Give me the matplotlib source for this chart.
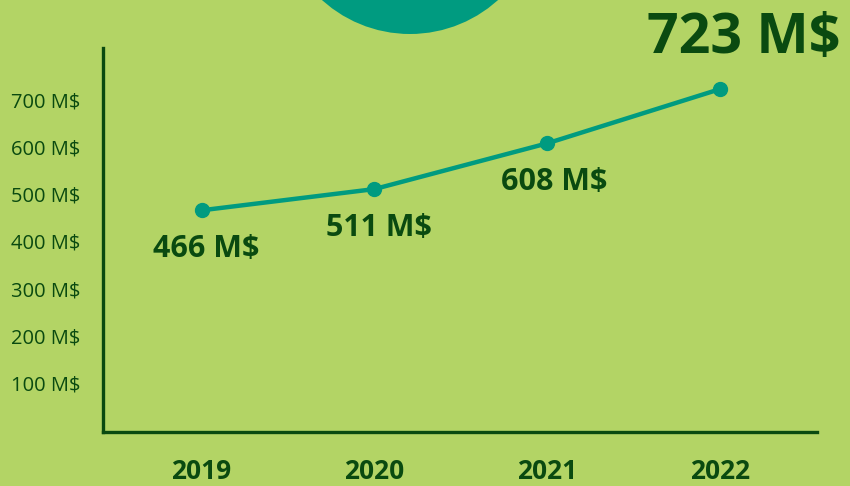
import matplotlib
matplotlib.use("Agg")
import matplotlib.pyplot as plt
from matplotlib.patches import Circle

years = [2019, 2020, 2021, 2022]
revenue = [466, 511, 608, 723]
value_labels = ["466 M$", "511 M$", "608 M$", "723 M$"]
ytick_values = [100, 200, 300, 400, 500, 600, 700]
ytick_labels = [f"{v} M$" for v in ytick_values]

bg = "#b3d465"
teal = "#009b80"
dark = "#0a4a10"

fig = plt.figure(figsize=(8.5, 4.86), dpi=100, facecolor=bg)

# big teal circle cut by the top edge
fig.patches.append(Circle((4.10, 5.83), 1.31, transform=fig.dpi_scale_trans,
                          facecolor=teal, edgecolor="none", zorder=0))

ax = fig.add_axes([103/850, (486-432)/486, (817-103)/850, (432-48)/486])
ax.set_facecolor("none")

ax.plot(years, revenue, color=teal, lw=3.2, marker="o", ms=10,
        solid_capstyle="round", zorder=3)

# value labels (offsets in pixels from each point)
offsets = [(5, -39), (5, -39), (7, -39), (24, 51)]
sizes = [22, 22, 22, 40]
for x, y, lab, off, fs in zip(years, revenue, value_labels, offsets, sizes):
    ax.annotate(lab, (x, y), xytext=off, textcoords="offset pixels",
                ha="center", va="center", fontsize=fs, fontweight="bold",
                family="Open Sans", color=dark, annotation_clip=False)

ax.set_xlim(2018.43, 2022.56)
ax.set_ylim(-3.8, 810)

ax.set_xticks(years)
ax.set_xticklabels([str(y) for y in years], fontsize=19, fontweight="bold",
                   family="Open Sans", color=dark)
ax.set_yticks(ytick_values)
ax.set_yticklabels(ytick_labels, fontsize=14.5, family="Open Sans", color=dark)
ax.tick_params(axis="both", length=0)
ax.tick_params(axis="y", pad=16)
ax.tick_params(axis="x", pad=19)

for s in ["top", "right"]:
    ax.spines[s].set_visible(False)
for s in ["left", "bottom"]:
    ax.spines[s].set_color(dark)
    ax.spines[s].set_linewidth(2.4)

fig.savefig("out.png", dpi=100, facecolor=bg)
